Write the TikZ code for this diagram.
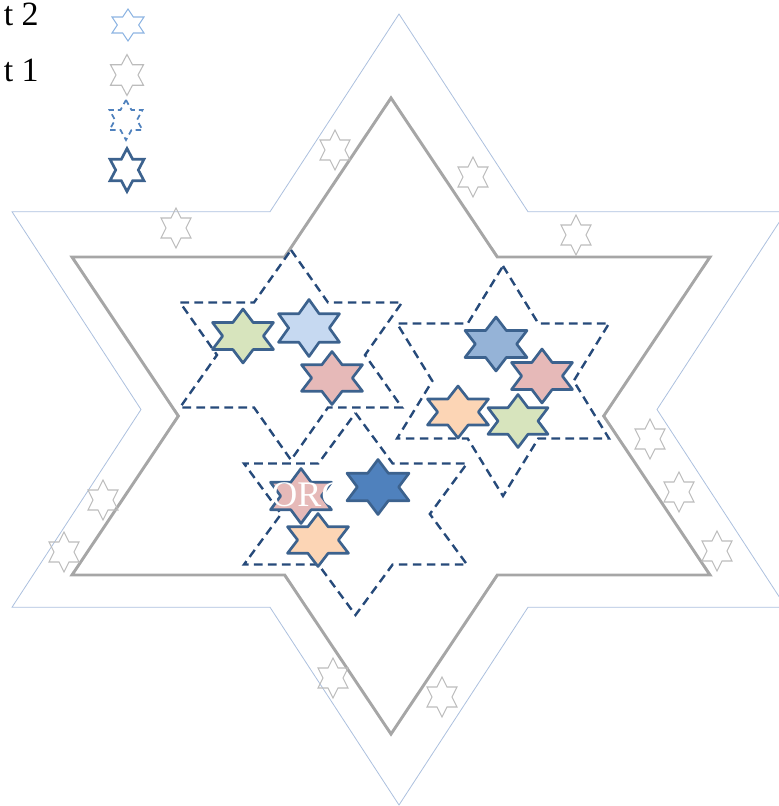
\documentclass[tikz,border=0pt]{standalone}
\usepackage{fontspec}
\setmainfont{Liberation Serif}
\definecolor{Outer}{RGB}{172,192,222}
\definecolor{Grey}{RGB}{166,166,166}
\definecolor{Mini}{RGB}{188,188,188}
\definecolor{Dash}{RGB}{38,74,122}
\definecolor{Edge}{RGB}{60,98,142}
\definecolor{Green}{RGB}{215,228,189}
\definecolor{Sky}{RGB}{198,217,241}
\definecolor{Rose}{RGB}{230,185,184}
\definecolor{Mid}{RGB}{149,179,215}
\definecolor{Peach}{RGB}{252,213,181}
\definecolor{Deep}{RGB}{79,129,189}
\definecolor{Light}{RGB}{141,180,226}
\tikzset{
  houter/.style={draw=Outer,line width=0.6pt},
  hgrey/.style={draw=Grey,line width=2.2pt},
  hmini/.style={draw=Mini,line width=0.8pt},
  hdash/.style={draw=Dash,line width=1.8pt,dash pattern=on 6.5pt off 4pt},
  hfill/.style={draw=Edge,line width=2pt,line join=round,fill=#1},
  hlab/.style={font=\fontsize{25.5}{30}\selectfont,inner sep=0pt}
}
% hexagram: [style] {cx}{cy}{width}{height}
\newcommand{\hexstar}[5][]{%
  \path[#1] (#2,#3-#5/2) -- (#2+#4/6,#3-#5/4) -- (#2+#4/2,#3-#5/4) -- (#2+#4/3,#3)
    -- (#2+#4/2,#3+#5/4) -- (#2+#4/6,#3+#5/4) -- (#2,#3+#5/2) -- (#2-#4/6,#3+#5/4)
    -- (#2-#4/2,#3+#5/4) -- (#2-#4/3,#3) -- (#2-#4/2,#3-#5/4) -- (#2-#4/6,#3-#5/4) -- cycle;}

\begin{document}
\begin{tikzpicture}[x=0.75pt,y=-0.75pt]
\useasboundingbox (0,0) rectangle (778,806);
% frames
\hexstar[houter]{399}{409.5}{774}{791}
\hexstar[hgrey]{391}{416}{638}{636}
% small stars between the frames
\foreach \sx/\sy in {335/150,473/177,176/228,576/235,650/439,679/492,717/551,103/500,64/552,333/678,442/697}
  \hexstar[hmini]{\sx}{\sy}{30}{40};
% dashed groups
\hexstar[hdash]{291}{355}{222}{210}
\hexstar[hdash]{503}{381}{212}{230}
\hexstar[hdash]{355.5}{514}{223}{202}
% top-left group
\hexstar[hfill=Green]{243}{336}{61}{54}
\hexstar[hfill=Sky]{309}{328}{61}{57}
\hexstar[hfill=Rose]{332}{378}{61}{53}
% right group
\hexstar[hfill=Mid]{496}{344}{62}{54}
\hexstar[hfill=Rose]{542}{376}{61}{54}
\hexstar[hfill=Peach]{458}{412}{61}{52}
\hexstar[hfill=Green]{518}{421}{60}{53}
% bottom group
\hexstar[hfill=Rose]{301}{496}{61}{55}
\node[font=\fontsize{27}{30}\selectfont,text=white,inner sep=0pt,anchor=base west] (org) at (271,506) {ORG};
\hexstar[hfill=Peach]{318}{540}{61}{53}
\hexstar[hfill=Deep]{378}{487}{62}{55}
% legend
\hexstar[draw=Light,line width=0.8pt]{128}{25}{32}{32}
\hexstar[draw=Mini,line width=0.8pt]{127}{75}{33}{41}
\hexstar[draw=Deep,line width=1.3pt,dash pattern=on 4pt off 3pt]{126}{120}{33}{40}
\hexstar[draw=Edge,line width=2pt]{127}{170}{34}{43}
\node[hlab,anchor=base east] (leg2) at (39,26) {t 2};
\node[hlab,anchor=base east] (leg1) at (39,82) {t 1};
\end{tikzpicture}
\end{document}
